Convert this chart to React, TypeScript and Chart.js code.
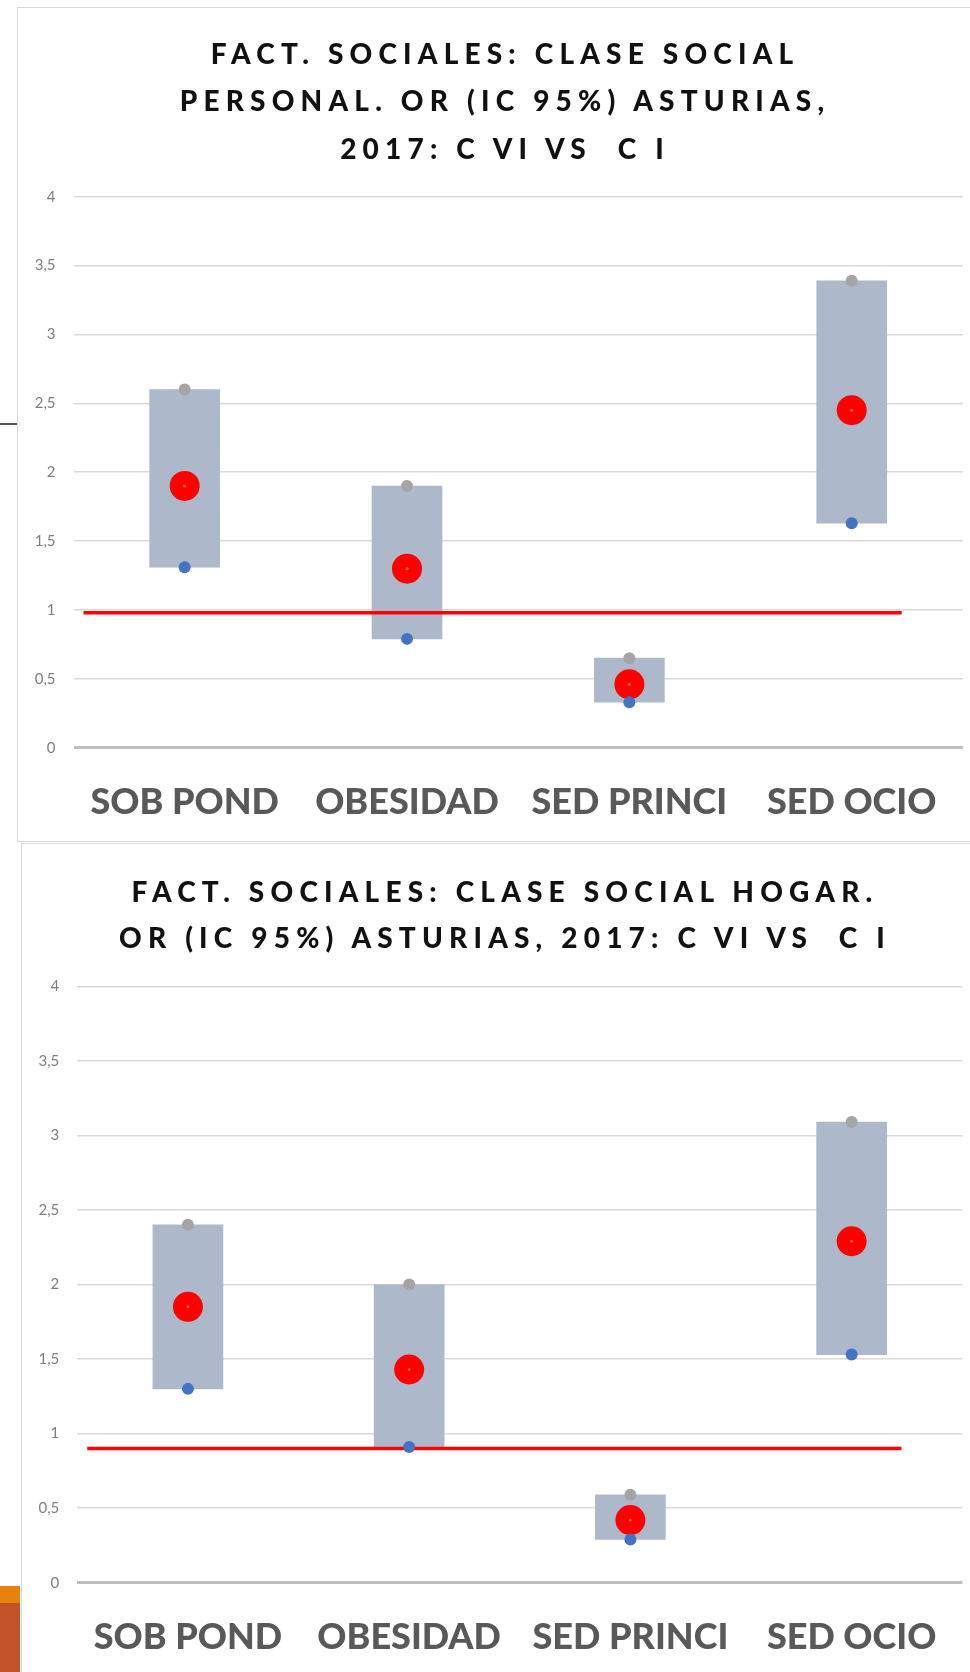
import React, { useEffect, useRef } from 'react';
import { Chart, registerables } from 'chart.js';

Chart.register(...registerables);

// ---------- DATA ----------
const categories = ['SOB POND', 'OBESIDAD', 'SED PRINCI', 'SED OCIO'];
const yTickValues = [0, 0.5, 1, 1.5, 2, 2.5, 3, 3.5, 4];

// Chart 1: Clase social personal
const personalTitle = ['FACT. SOCIALES: CLASE SOCIAL', 'PERSONAL. OR (IC 95%) ASTURIAS,', '2017: C VI VS  C I'];
const personalOR = [1.9, 1.3, 0.46, 2.45];
const personalLow = [1.31, 0.79, 0.33, 1.63];
const personalHigh = [2.6, 1.9, 0.65, 3.39];
const personalRef = 0.98;

// Chart 2: Clase social hogar
const hogarTitle = ['FACT. SOCIALES: CLASE SOCIAL HOGAR.', 'OR (IC 95%) ASTURIAS, 2017: C VI VS  C I'];
const hogarOR = [1.85, 1.43, 0.42, 2.29];
const hogarLow = [1.3, 0.91, 0.29, 1.53];
const hogarHigh = [2.4, 2.0, 0.59, 3.09];
const hogarRef = 0.9;

// reference line span, in category-axis units
const refLineSpan = [-0.455, 3.225];

// Draws the OR = ref line through the chart's own scales, just above the boxes
const refLinePlugin = {
  id: 'refLine',
  afterDatasetDraw(chart: any, args: any, opts: any) {
    if (args.index !== 0 || opts == null || opts.value == null) return;
    const x = chart.scales.x;
    const y = chart.scales.y;
    const yy = y.getPixelForValue(opts.value);
    const ctx = chart.ctx;
    ctx.save();
    ctx.strokeStyle = opts.color;
    ctx.lineWidth = opts.width;
    ctx.beginPath();
    ctx.moveTo(x.getPixelForValue(opts.span[0]), yy);
    ctx.lineTo(x.getPixelForValue(opts.span[1]), yy);
    ctx.stroke();
    ctx.restore();
  },
};

// ---------- COMPONENT ----------
type Cfg = {
  top: number;
  height: number;
  frameLeft: number;
  frameTop: number;
  frameBottom: boolean;
  title: string[];
  titleTop: number;
  titleLineHeight: number;
  or: number[];
  low: number[];
  high: number[];
  ref: number;
  padding: { left: number; right: number; top: number; bottom: number };
};

function OrChart({ cfg }: { cfg: Cfg }) {
  const ref = useRef<HTMLCanvasElement>(null);
  useEffect(() => {
    const chart = new Chart(ref.current!, {
      type: 'bar',
      plugins: [refLinePlugin],
      data: {
        labels: categories,
        datasets: [
          {
            type: 'bar',
            data: cfg.low.map((l, i) => [l, cfg.high[i]]),
            backgroundColor: '#ADB9CA',
            borderWidth: 0,
            barThickness: 70,
            grouped: false,
            order: 6,
          } as any,
          {
            type: 'line',
            data: cfg.high,
            showLine: false,
            pointRadius: 6,
            pointBackgroundColor: '#A5A5A5',
            pointBorderWidth: 0,
            order: 4,
          } as any,
          {
            type: 'line',
            data: cfg.or,
            showLine: false,
            pointRadius: 15,
            pointBackgroundColor: '#FF0000',
            pointBorderWidth: 0,
            order: 3,
          } as any,
          {
            type: 'line',
            data: cfg.or,
            showLine: false,
            pointRadius: 1.5,
            pointBackgroundColor: '#ED7D31',
            pointBorderWidth: 0,
            order: 2,
          } as any,
          {
            type: 'line',
            data: cfg.low,
            showLine: false,
            pointRadius: 6,
            pointBackgroundColor: '#4472C4',
            pointBorderWidth: 0,
            order: 1,
          } as any,
        ],
      },
      options: {
        responsive: false,
        maintainAspectRatio: false,
        animation: false,
        events: [],
        layout: { padding: cfg.padding, autoPadding: false } as any,
        plugins: {
          legend: { display: false },
          tooltip: { enabled: false },
          title: { display: false },
          refLine: { value: cfg.ref, span: refLineSpan, color: '#FF0000', width: 3.5 },
        } as any,
        scales: {
          x: {
            type: 'category',
            offset: true,
            grid: { display: false, drawTicks: false },
            border: { display: false },
            ticks: {
              color: '#595959',
              padding: 33,
              font: { family: 'Lato', weight: '900', size: 36 },
              maxRotation: 0,
              autoSkip: false,
            },
            afterFit: (s: any) => {
              s.height = 80;
            },
          },
          y: {
            type: 'linear',
            min: yTickValues[0],
            max: yTickValues[yTickValues.length - 1],
            afterBuildTicks: (s: any) => {
              s.ticks = yTickValues.map((v) => ({ value: v }));
            },
            grid: {
              drawTicks: false,
              color: (c: any) => (c.tick && c.tick.value === 0 ? '#BFBFBF' : '#D9D9D9'),
              lineWidth: (c: any) => (c.tick && c.tick.value === 0 ? 3 : 1.5),
            },
            border: { display: false },
            ticks: {
              color: '#7F7F7F',
              padding: 18,
              font: { family: 'Lato', size: 15 },
              callback: (v: any) => String(v).replace('.', ','),
            },
            afterFit: (s: any) => {
              s.width = 60;
            },
          },
        },
      } as any,
    });
    return () => chart.destroy();
  }, []);

  return (
    <div style={{ position: 'absolute', left: 0, top: cfg.top, width: 970, height: cfg.height, overflow: 'hidden' }}>
      <div
        style={{
          position: 'absolute',
          left: cfg.frameLeft,
          top: cfg.frameTop,
          width: 1000,
          height: cfg.height - cfg.frameTop - (cfg.frameBottom ? 1 : -10),
          borderLeft: '1.5px solid #D9D9D9',
          borderTop: '1.5px solid #D9D9D9',
          borderBottom: cfg.frameBottom ? '1.5px solid #D9D9D9' : 'none',
          boxSizing: 'border-box',
        }}
      />
      <canvas ref={ref} width={970} height={cfg.height} style={{ position: 'absolute', left: 0, top: 0 }} />
      <div
        style={{
          position: 'absolute',
          left: 3,
          width: 1004,
          top: cfg.titleTop,
          textAlign: 'center',
          fontFamily: 'Lato, sans-serif',
          fontWeight: 900,
          fontSize: 28,
          letterSpacing: '6.2px',
          lineHeight: cfg.titleLineHeight + 'px',
          color: '#111111',
          whiteSpace: 'pre',
          pointerEvents: 'none',
        }}
      >
        {cfg.title.map((t, i) => (
          <div key={i}>{t}</div>
        ))}
      </div>
    </div>
  );
}

const chart1: Cfg = {
  top: 0,
  height: 843,
  frameLeft: 17,
  frameTop: 7,
  frameBottom: true,
  title: personalTitle,
  titleTop: 29.5,
  titleLineHeight: 47.5,
  or: personalOR,
  low: personalLow,
  high: personalHigh,
  ref: personalRef,
  padding: { left: 13.5, right: 4.5, top: 196.7, bottom: 15.3 },
};

const chart2: Cfg = {
  top: 843,
  height: 829,
  frameLeft: 20.5,
  frameTop: 0,
  frameBottom: false,
  title: hogarTitle,
  titleTop: 26,
  titleLineHeight: 45.5,
  or: hogarOR,
  low: hogarLow,
  high: hogarHigh,
  ref: hogarRef,
  padding: { left: 17.3, right: 5, top: 143.3, bottom: 9.3 },
};

export default function App() {
  return (
    <div style={{ position: 'absolute', left: 0, top: 0, width: 970, height: 1672, background: '#FFFFFF', overflow: 'hidden' }}>
      <OrChart cfg={chart1} />
      <OrChart cfg={chart2} />
      <div style={{ position: 'absolute', left: 0, top: 423, width: 17, height: 2, background: '#555555' }} />
      <div style={{ position: 'absolute', left: 0, top: 1586, width: 20, height: 17, background: '#E8820E' }} />
      <div style={{ position: 'absolute', left: 0, top: 1603, width: 20, height: 69, background: '#C0532A' }} />
    </div>
  );
}
